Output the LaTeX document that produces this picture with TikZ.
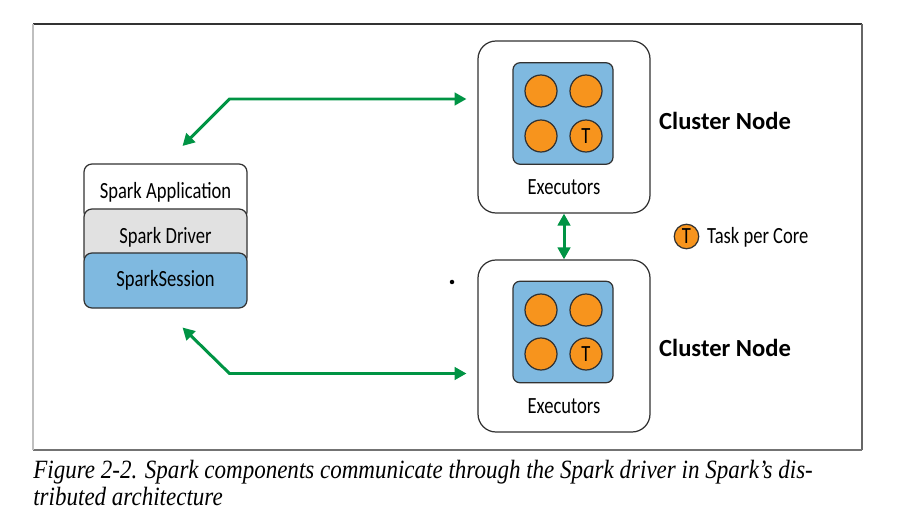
\documentclass[tikz,border=0pt]{standalone}
\usepackage{fontspec}
\setmainfont{Carlito}[FakeStretch=0.80]
\newfontfamily\boldfont{Carlito}[FakeStretch=1.0]
\newfontfamily\capfont{Liberation Serif}[FakeStretch=0.873]
\usetikzlibrary{arrows.meta}

\definecolor{sparkgreen}{RGB}{0,148,68}
\definecolor{execblue}{RGB}{127,185,224}
\definecolor{drivergray}{RGB}{225,225,225}
\definecolor{coreorange}{RGB}{247,148,29}
\definecolor{edgedark}{RGB}{50,50,50}

\tikzset{
  layerbox/.style={draw=edgedark, line width=0.7pt, rounded corners=0.16cm,
    minimum width=3.26cm, inner sep=0pt, font=\fontsize{13.2}{15}\selectfont},
  clusterbox/.style={draw=edgedark, line width=0.7pt, rounded corners=0.36cm,
    fill=white, minimum width=3.44cm, minimum height=3.44cm},
  execbox/.style={draw=edgedark, line width=0.7pt, rounded corners=0.14cm,
    fill=execblue, minimum width=2.0cm, minimum height=2.03cm},
  core/.style={circle, draw=edgedark, line width=0.7pt, fill=coreorange,
    minimum size=0.64cm, inner sep=0pt, font=\fontsize{13.2}{15}\selectfont},
  label/.style={font=\fontsize{13.2}{15}\selectfont},
  nodetitle/.style={anchor=west, font=\boldfont\bfseries\fontsize{14}{16}\selectfont},
  flowarrow/.style={draw=sparkgreen, line width=1.7pt,
    arrows={Triangle[length=0.24cm,width=0.25cm]-Triangle[length=0.24cm,width=0.25cm]}}
}

\begin{document}
\begin{tikzpicture}

\useasboundingbox (0,0) rectangle (18.22,10.36);

% Define coordinates for the figure frame
\coordinate (TL) at (0.66,9.88);   % Top left corner
\coordinate (TR) at (17.24,9.88);  % Top right corner
\coordinate (BR) at (17.24,1.36);  % Bottom right corner
\coordinate (BL) at (0.66,1.36);   % Bottom left corner

% Draw the frame sides
\draw[line width=0.8pt, edgedark] (TL) -- (TR);        % Top side
\draw[line width=0.8pt, black!60] (TR) -- (BR);        % Right side
\draw[line width=0.8pt, black!55] (BR) -- (BL);        % Bottom side
\draw[line width=1pt, black!25] (BL) -- (TL);          % Left side

% Draw the application stack on the left
\node[layerbox, fill=white, minimum height=1.12cm] (app) at (3.31,6.52) {Spark Application};
\node[layerbox, fill=drivergray, minimum height=1.12cm] (driver) at (3.31,5.62) {Spark Driver};
\node[layerbox, fill=execblue, minimum height=1.10cm] (session) at (3.31,4.75) {SparkSession};

% Draw the two cluster nodes
\node[clusterbox] (cluster1) at (11.28,7.82) {};
\node[clusterbox] (cluster2) at (11.28,3.44) {};

% Draw the executor squares
\node[execbox] (exec1) at (11.26,8.09) {};
\node[execbox] (exec2) at (11.26,3.72) {};

% Draw the cores of the upper executor
\node[core] (core1a) at (10.82,8.54) {};
\node[core] (core1b) at (11.72,8.54) {};
\node[core] (core1c) at (10.82,7.64) {};
\node[core] (core1d) at (11.72,7.64) {T};

% Draw the cores of the lower executor
\node[core] (core2a) at (10.82,4.16) {};
\node[core] (core2b) at (11.72,4.16) {};
\node[core] (core2c) at (10.82,3.28) {};
\node[core] (core2d) at (11.72,3.28) {T};

% Label the executors and the cluster nodes
\node[label] (execlabel1) at (11.28,6.62) {Executors};
\node[label] (execlabel2) at (11.28,2.24) {Executors};
\node[nodetitle] (nodelabel1) at (13.06,7.94) {Cluster Node};
\node[nodetitle] (nodelabel2) at (13.06,3.40) {Cluster Node};

% Legend for the tasks
\node[core, minimum size=0.49cm] (legendcore) at (13.73,5.63) {T};
\node[label, anchor=west] (legendtext) at (14.02,5.62) {Task per Core};

% Coordinates for the green connectors
\coordinate (topbend) at (4.59,8.38);     % Corner of upper connector
\coordinate (toptip) at (9.33,8.38);      % Right end of upper connector
\coordinate (apptip) at (3.65,7.44);      % Left end of upper connector
\coordinate (lowbend) at (4.59,2.89);     % Corner of lower connector
\coordinate (lowtip) at (9.33,2.89);      % Right end of lower connector
\coordinate (sessiontip) at (3.65,3.81);  % Left end of lower connector

% Draw the green connectors
\draw[flowarrow, line join=miter] (apptip) -- (topbend) -- (toptip);
\draw[flowarrow, line join=miter] (sessiontip) -- (lowbend) -- (lowtip);
\draw[flowarrow] (cluster1.south) -- (cluster2.north);

% The small dot left of the lower cluster
\fill (9.04,4.72) circle (0.045);

% Caption below the frame
\node[anchor=base west, inner sep=0pt, font=\capfont\itshape\fontsize{15}{17}\selectfont] (caption1) at (0.66,0.80)
  {Figure 2-2. Spark components communicate through the Spark driver in Spark’s dis-};
\node[anchor=base west, inner sep=0pt, font=\capfont\itshape\fontsize{15}{17}\selectfont] (caption2) at (0.66,0.26)
  {tributed architecture};

\end{tikzpicture}
\end{document}
